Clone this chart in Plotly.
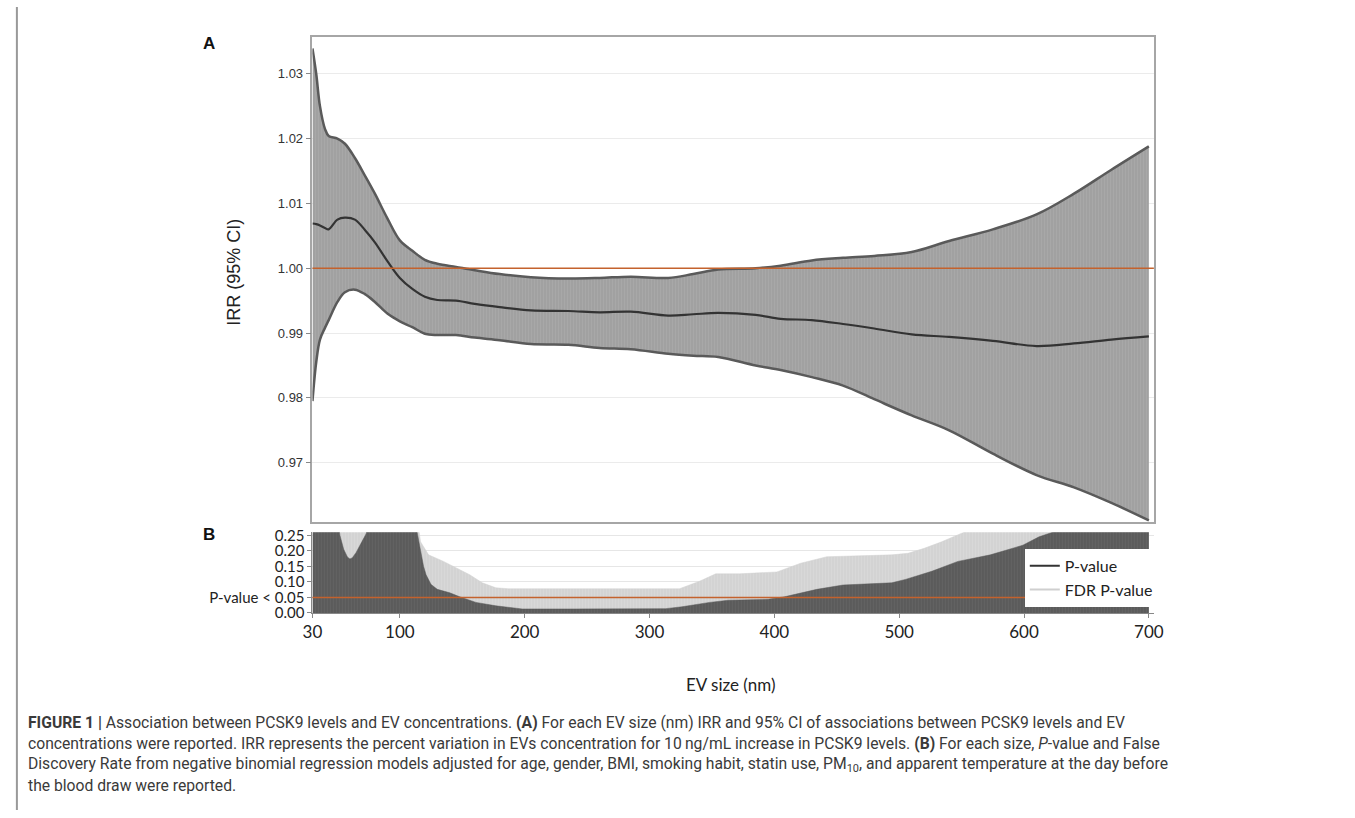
import plotly.graph_objects as go

# ---------------- Panel A data (IRR and 95% CI) ----------------
ev_size = [30, 33, 36, 40, 43, 50, 56, 64, 72, 80, 90, 100, 110, 120, 130, 145, 160, 180,
           205, 235, 260, 285, 315, 335, 355, 385, 405, 430, 455, 480, 510, 540, 575, 610,
           640, 670, 700]
irr_upper = [1.0339, 1.0300, 1.0250, 1.0215, 1.0204, 1.0200, 1.0192, 1.0170, 1.0143, 1.0115,
             1.0077, 1.0043, 1.0027, 1.0013, 1.0007, 1.0002, 0.9997, 0.9991, 0.9986, 0.9984,
             0.9985, 0.9987, 0.9985, 0.9991, 0.9998, 1.0000, 1.0004, 1.0012, 1.0016, 1.0019,
             1.0025, 1.0042, 1.0060, 1.0083, 1.0115, 1.0152, 1.0188]
irr = [1.0069, 1.0068, 1.0066, 1.0062, 1.0060, 1.0075, 1.0078, 1.0075, 1.0059, 1.0040,
       1.0011, 0.9985, 0.9968, 0.9956, 0.9951, 0.9950, 0.9945, 0.9940, 0.9935, 0.9934,
       0.9932, 0.9933, 0.9927, 0.9929, 0.9931, 0.9928, 0.9922, 0.9920, 0.9914, 0.9907,
       0.9898, 0.9894, 0.9888, 0.9880, 0.9884, 0.9890, 0.9895]
irr_lower = [0.9795, 0.9855, 0.9890, 0.9908, 0.9920, 0.9948, 0.9963, 0.9967, 0.9960, 0.9948,
             0.9930, 0.9918, 0.9909, 0.9899, 0.9897, 0.9897, 0.9893, 0.9889, 0.9883, 0.9882,
             0.9877, 0.9875, 0.9868, 0.9865, 0.9863, 0.9850, 0.9843, 0.9832, 0.9819, 0.9798,
             0.9773, 0.9750, 0.9714, 0.9681, 0.9662, 0.9638, 0.9611]
irr_ticks = [0.97, 0.98, 0.99, 1.00, 1.01, 1.02, 1.03]

# ---------------- Panel B data (P-value and FDR) ----------------
p_size = [30, 50, 52, 55, 58, 60, 62, 65, 69, 73, 76, 112, 115, 117, 119, 121, 125, 130,
          140, 148, 161, 177, 198, 235, 287, 313, 326, 348, 363, 395, 408, 434, 455, 494,
          505, 526, 547, 573, 599, 612, 623, 630, 700]
p_value = [0.30, 0.30, 0.25, 0.205, 0.180, 0.174, 0.178, 0.195, 0.225, 0.255, 0.30, 0.30,
           0.235, 0.187, 0.150, 0.123, 0.092, 0.076, 0.065, 0.052, 0.034, 0.023, 0.013,
           0.013, 0.013, 0.014, 0.020, 0.034, 0.041, 0.044, 0.052, 0.076, 0.090, 0.097,
           0.108, 0.134, 0.166, 0.187, 0.218, 0.245, 0.26, 0.30, 0.30]
fdr_size = [30, 114, 116.6, 123, 135, 148, 156, 166, 177, 187, 324, 340, 353, 372, 402, 421,
            442, 494, 507, 520, 534, 552, 560, 700]
fdr_value = [0.30, 0.30, 0.229, 0.187, 0.166, 0.139, 0.123, 0.097, 0.081, 0.078, 0.078,
             0.102, 0.126, 0.126, 0.132, 0.160, 0.181, 0.187, 0.192, 0.208, 0.229, 0.26,
             0.30, 0.30]
p_ticks = [0.00, 0.05, 0.10, 0.15, 0.20, 0.25]
p_ticktext = ["0.00", "P-value < 0.05", "0.10", "0.15", "0.20", "0.25"]
x_ticks = [30, 100, 200, 300, 400, 500, 600, 700]

caption_lines = [
    "<b>FIGURE 1 |</b> Association between PCSK9 levels and EV concentrations. <b>(A)</b> For each EV size (nm) IRR and 95% CI of associations between PCSK9 levels and EV",
    "concentrations were reported. IRR represents the percent variation in EVs concentration for 10\u2009ng/mL increase in PCSK9 levels. <b>(B)</b> For each size, <i>P</i>-value and False",
    "Discovery Rate from negative binomial regression models adjusted for age, gender, BMI, smoking habit, statin use, PM<sub>10</sub>, and apparent temperature at the day before",
    "the blood draw were reported.",
]

W, H = 1355, 818

def px(xp):
    return xp / W

def py(yp):
    return 1 - yp / H

fig = go.Figure()

# Panel A: CI band
fig.add_trace(go.Scatter(x=ev_size, y=irr_lower, mode="lines", line=dict(color="#5a5a5a", width=2.5, shape="spline"),
                         showlegend=False, hoverinfo="skip", xaxis="x", yaxis="y"))
fig.add_trace(go.Scatter(x=ev_size, y=irr_upper, mode="lines", line=dict(color="#5a5a5a", width=2.5, shape="spline"),
                         fill="tonexty", fillcolor="#a4a4a4",
                         fillpattern=dict(shape="|", bgcolor="#a8a8a8", fgcolor="#8c8c8c", size=3, solidity=0.35),
                         showlegend=False, hoverinfo="skip", xaxis="x", yaxis="y"))
fig.add_trace(go.Scatter(x=ev_size, y=irr, mode="lines", line=dict(color="#333333", width=2.2, shape="spline"),
                         showlegend=False, xaxis="x", yaxis="y"))

# Panel B
fig.add_trace(go.Scatter(x=fdr_size, y=fdr_value, mode="lines", line=dict(color="#d2d2d2", width=0.5),
                         fill="tozeroy", fillcolor="#d6d6d6",
                         fillpattern=dict(shape="|", bgcolor="#d8d8d8", fgcolor="#c4c4c4", size=3, solidity=0.35),
                         showlegend=False, hoverinfo="skip", xaxis="x2", yaxis="y2"))
fig.add_trace(go.Scatter(x=p_size, y=p_value, mode="lines", line=dict(color="#5a5a5a", width=0.5),
                         fill="tozeroy", fillcolor="#606060",
                         fillpattern=dict(shape="|", bgcolor="#626262", fgcolor="#484848", size=3, solidity=0.35),
                         showlegend=False, hoverinfo="skip", xaxis="x2", yaxis="y2"))
# legend entries
fig.add_trace(go.Scatter(x=[None], y=[None], mode="lines", line=dict(color="#333333", width=2),
                         name="P-value", xaxis="x2", yaxis="y2"))
fig.add_trace(go.Scatter(x=[None], y=[None], mode="lines", line=dict(color="#cfcfcf", width=2),
                         name="FDR P-value", xaxis="x2", yaxis="y2"))

orange = "#c4622d"
fig.add_shape(type="line", xref="x domain", yref="y", x0=0, x1=1, y0=1.0, y1=1.0,
              line=dict(color=orange, width=1.6), layer="above")
fig.add_shape(type="line", xref="x2 domain", yref="y2", x0=0, x1=1, y0=0.05, y1=0.05,
              line=dict(color=orange, width=1.4), layer="above")
# left frame line
fig.add_shape(type="line", xref="paper", yref="paper", x0=px(7), x1=px(7), y0=0, y1=1,
              line=dict(color="#999999", width=2))

xdom = [px(307), px(1161)]
fig.update_layout(
    width=W, height=H,
    margin=dict(l=0, r=0, t=0, b=0),
    paper_bgcolor="white", plot_bgcolor="white",
    xaxis=dict(domain=xdom, range=[30, 704], anchor="y", showticklabels=False, ticks="",
               showgrid=False, zeroline=False, showline=True, linecolor="#a6a6a6", linewidth=1.5, mirror=True),
    yaxis=dict(domain=[py(525), py(31)], range=[0.9608, 1.0356], anchor="x",
               tickvals=irr_ticks, ticktext=["%.2f" % v for v in irr_ticks],
               ticks="outside", ticklen=5, tickcolor="#888888",
               tickfont=dict(family="Liberation Sans, Arial", size=13, color="#333333"),
               showgrid=True, gridcolor="#ebebeb", zeroline=False,
               showline=True, linecolor="#a6a6a6", linewidth=1.5, mirror=True),
    xaxis2=dict(domain=xdom, range=[30, 704], anchor="y2",
                tickvals=x_ticks, ticktext=[str(v) for v in x_ticks],
                ticks="outside", ticklen=4, tickcolor="#888888",
                tickfont=dict(family="Lato", size=17, color="#222222"),
                showgrid=False, zeroline=False, showline=True, linecolor="#888888", linewidth=1),
    yaxis2=dict(domain=[py(617.3), py(535)], range=[0, 0.26], anchor="x2",
                tickvals=p_ticks, ticktext=p_ticktext,
                ticks="outside", ticklen=4, tickcolor="#888888",
                tickfont=dict(family="Lato", size=15, color="#222222"),
                showgrid=True, gridcolor="#e6e6e6", zeroline=False,
                showline=True, linecolor="#888888", linewidth=1),
    legend=dict(x=px(1030), y=py(552), xanchor="left", yanchor="top",
                bgcolor="white", borderwidth=0, traceorder="normal",
                font=dict(family="Lato", size=16, color="#222222"),
                tracegroupgap=0, itemwidth=30),
    showlegend=True,
)

ann = []
ann.append(dict(text="IRR (95% CI)", x=px(227), y=py(270), xref="paper", yref="paper",
                textangle=-90, showarrow=False, xanchor="center", yanchor="middle",
                font=dict(family="Liberation Sans, Arial", size=18, color="#222222")))
ann.append(dict(text="EV size (nm)", x=px(731), y=py(690), xref="paper", yref="paper",
                showarrow=False, xanchor="center", yanchor="middle",
                font=dict(family="Lato", size=17, color="#222222")))
ann.append(dict(text="<b>A</b>", x=px(194), y=py(37), xref="paper", yref="paper",
                showarrow=False, xanchor="left", yanchor="middle",
                font=dict(family="Liberation Sans, Arial", size=17, color="#111111")))
ann.append(dict(text="<b>B</b>", x=px(194), y=py(537), xref="paper", yref="paper",
                showarrow=False, xanchor="left", yanchor="middle",
                font=dict(family="Liberation Sans, Arial", size=17, color="#111111")))
for i, line in enumerate(caption_lines):
    ann.append(dict(text=line, x=px(16), y=py(729 + 21.2 * i), xref="paper", yref="paper",
                    showarrow=False, xanchor="left", yanchor="middle", align="left",
                    font=dict(family="Roboto", size=15.7, color="#3a3a3a")))
fig.update_layout(annotations=ann)

fig.write_html("out.html", config={"displayModeBar": False},
               post_script="document.body.style.margin='0';document.body.style.padding='0';document.body.style.overflow='hidden';")
